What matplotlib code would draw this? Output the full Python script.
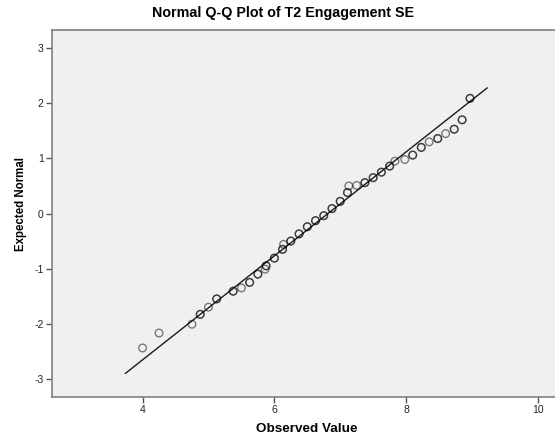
import matplotlib
matplotlib.use("Agg")
import matplotlib.pyplot as plt
import numpy as np

plt.rcParams['font.family'] = ['Liberation Sans', 'DejaVu Sans']
plt.rcParams['axes.unicode_minus'] = False

title = "Normal Q-Q Plot of T2 Engagement SE"
x_label = "Observed Value"
y_label = "Expected Normal"

observed = [4.00, 4.25, 4.75, 4.875, 5.00, 5.125, 5.375, 5.50, 5.625, 5.75,
            5.86, 5.875, 6.00, 6.125, 6.14, 6.25, 6.375, 6.50, 6.625, 6.75,
            6.875, 7.00, 7.11, 7.13, 7.25, 7.375, 7.50, 7.625, 7.75, 7.83,
            7.98, 8.10, 8.23, 8.35, 8.48, 8.60, 8.73, 8.85, 8.97]
expected = [-2.44, -2.17, -2.01, -1.83, -1.70, -1.55, -1.41, -1.35, -1.25, -1.10,
            -1.01, -0.95, -0.81, -0.65, -0.56, -0.50, -0.37, -0.24, -0.13, -0.04,
            0.09, 0.22, 0.38, 0.50, 0.51, 0.56, 0.65, 0.75, 0.86, 0.95,
            0.98, 1.06, 1.20, 1.30, 1.36, 1.45, 1.53, 1.70, 2.09]
ties = [1, 1, 1, 2, 1, 2, 2, 1, 2, 2,
        1, 2, 2, 2, 1, 2, 2, 2, 2, 2,
        2, 2, 2, 1, 1, 2, 2, 2, 2, 1,
        1, 2, 2, 1, 2, 1, 2, 2, 2]

line_x = [3.74, 9.23]
mean_val = 6.815
sd_val = 1.06

x_ticks = [4, 6, 8, 10]
y_ticks = [-3, -2, -1, 0, 1, 2, 3]

fig = plt.figure(figsize=(5.55, 4.41), dpi=100)
W, H = 555, 441
ax = fig.add_axes([52 / W, 1 - 397 / H, 1 - 52 / W, (397 - 30) / H])
ax.set_facecolor('#F0F0F0')

ax.set_xlim(2.625, 10.26)
ax.set_ylim(-3.33, 3.33)

lx = np.array(line_x)
ax.plot(lx, (lx - mean_val) / sd_val, color='#1a1a1a', lw=1.0, zorder=2)

obs = np.array(observed)
exp_ = np.array(expected)
cnt = np.array(ties)
for k in range(1, cnt.max() + 1):
    m = cnt >= k
    ax.scatter(obs[m], exp_[m], s=30, facecolors='none',
               edgecolors='black', linewidths=1.0, alpha=0.5, zorder=3)

ax.set_xticks(x_ticks)
ax.set_yticks(y_ticks)
ax.tick_params(direction='out', length=4, width=1, color='#555555',
               labelsize=7.5, labelcolor='#222222', pad=2)
for s in ['left', 'bottom', 'top']:
    ax.spines[s].set_color('#808080')
    ax.spines[s].set_linewidth(1.2)
ax.spines['right'].set_visible(False)

fig.text(283.5 / W, 1 - 13 / H, title, ha='center', va='center',
         fontsize=10.3, fontweight='bold')
fig.text(306.5 / W, 1 - 429 / H, x_label, ha='center', va='center',
         fontsize=9.7, fontweight='bold')
fig.text(21.5 / W, 1 - 204 / H, y_label, ha='center', va='center',
         fontsize=8.3, fontweight='bold', rotation=90)

fig.savefig('out.png', dpi=100, facecolor='white')
